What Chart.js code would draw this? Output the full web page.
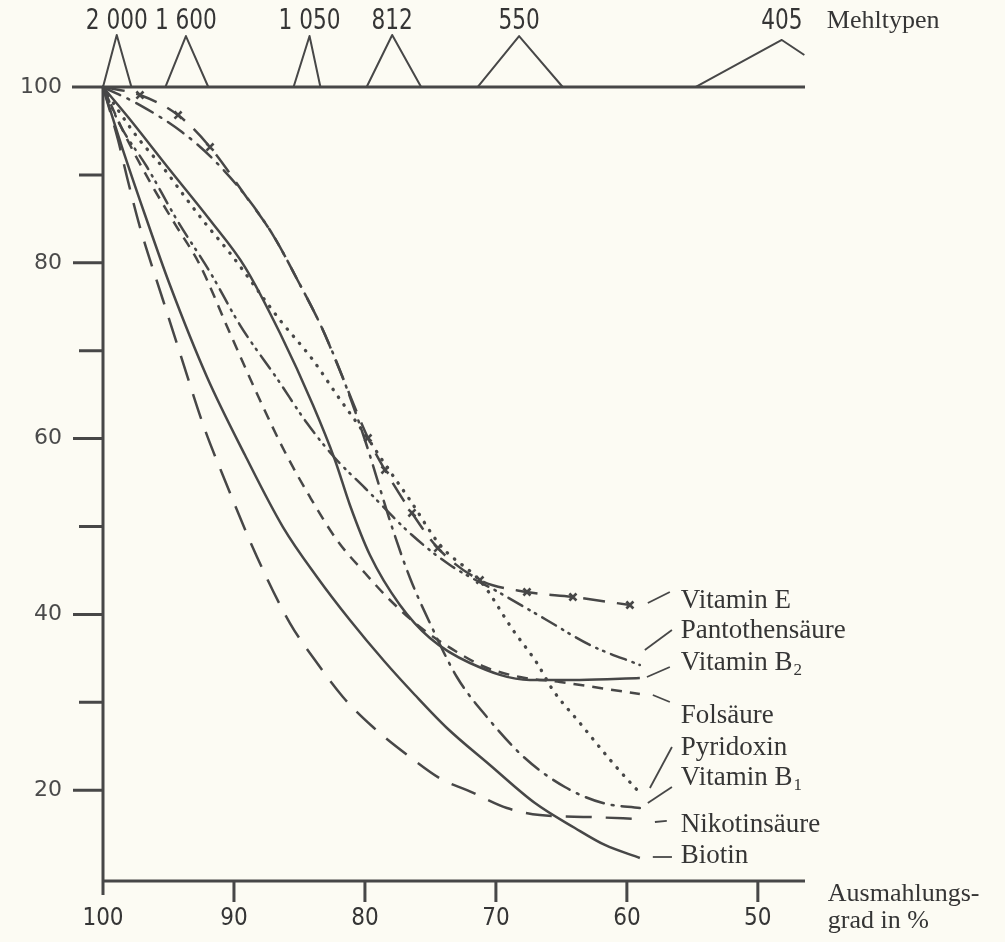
<!DOCTYPE html>
<html><head><meta charset="utf-8">
<script src="https://cdn.jsdelivr.net/npm/chart.js@4.4.1/dist/chart.umd.min.js"></script>
<style>html,body{margin:0;padding:0;background:#fcfbf3;}canvas{display:block;}</style>
</head><body>
<canvas id="c" width="1005" height="942"></canvas>
<script>
// x: Ausmahlungsgrad in %, y: relativer Vitamingehalt (Vollkorn = 100)
const xTicks = [100, 90, 80, 70, 60, 50];
const yTicks = [20, 30, 40, 50, 60, 70, 80, 90, 100];
const yLabelled = [20, 40, 60, 80, 100];

const vitaminE = [[100,100],[97.18,99.09],[94.27,96.81],[91.83,93.17],[89.16,87.71],[87.02,83.16],[85.19,78.16],[83.28,72.58],[81.68,66.89],[79.77,60.07],[78.47,56.43],[76.41,51.54],[74.43,47.55],[71.22,43.91],[67.63,42.55],[64.12,41.98],[59.77,41.07]];
const pantothensaeure = [[100,100],[98.70,95.68],[96.64,90.90],[94.35,84.87],[91.83,78.95],[89.54,72.92],[86.64,66.67],[84.43,61.77],[82.29,57.79],[80.00,54.38],[76.41,49.03],[73.51,45.62],[69.69,42.44],[66.26,39.48],[62.82,36.52],[59.01,34.24]];
const vitaminB2 = [[100,100],[98.09,96.59],[94.89,90.56],[91.83,84.87],[89.16,79.52],[86.49,72.01],[83.97,63.82],[82.29,57.57],[81.15,52.45],[79.62,46.76],[77.33,41.07],[75.04,37.31],[71.98,34.47],[67.40,32.54],[63.59,32.54],[59.01,32.76]];
const folsaeure = [[100,100],[98.32,94.54],[96.41,89.19],[94.50,84.41],[92.60,79.75],[90.31,72.01],[88.02,64.39],[86.11,58.48],[84.20,53.36],[82.14,48.46],[80.00,44.71],[78.09,41.64],[75.80,38.57],[72.98,35.72],[70.84,34.02],[68.17,32.88],[65.11,32.31],[62.06,31.63],[59.01,30.95]];
const pyridoxin = [[100,100],[98.85,97.38],[97.33,94.20],[95.27,90.56],[93.74,87.49],[92.21,84.53],[90.31,81.11],[86.49,73.49],[83.97,68.94],[82.14,64.96],[79.85,60.18],[78.32,56.77],[76.56,53.01],[74.27,47.90],[71.07,43.57],[68.70,38.23],[66.87,34.47],[65.65,31.40],[63.59,27.65],[61.07,23.09],[59.01,19.68]];
const vitaminB1 = [[100,100],[97.18,97.95],[93.97,94.88],[91.68,91.92],[89.16,87.71],[87.02,83.16],[85.19,78.16],[83.28,72.58],[81.68,66.89],[80.00,59.84],[77.86,49.60],[76.56,44.14],[75.04,39.02],[72.98,32.88],[70.69,28.33],[67.79,23.66],[64.73,20.36],[61.83,18.54],[59.01,17.97]];
const nikotinsaeure = [[100,100],[98.85,93.97],[98.17,89.76],[97.18,84.07],[95.42,75.77],[94.27,70.42],[92.21,60.98],[90.92,56.09],[88.24,46.53],[85.73,39.02],[83.82,34.81],[81.68,30.60],[79.39,27.19],[76.56,23.78],[74.05,21.16],[72.21,20.02],[69.16,17.97],[66.64,17.18],[62.82,16.95],[59.01,16.72]];
const biotin = [[100,100],[98.55,93.17],[96.79,85.44],[94.89,77.47],[92.06,67.01],[89.16,58.13],[86.26,49.94],[83.66,44.26],[81.15,39.36],[78.47,34.58],[76.18,30.83],[73.74,27.08],[70.46,22.87],[67.02,18.54],[63.97,15.70],[61.68,13.77],[59.01,12.29]];

// Mehltypen (flour types) and their extraction-range triangles
const flourTypes = ['2 000', '1 600', '1 050', '812', '550', '405'];
const flour2000 = [[100,100],[98.95,105.92],[97.83,100]];
const flour1600 = [[95.24,100],[93.67,105.80],[91.96,100]];
const flour1050 = [[85.45,100],[84.23,105.80],[83.40,100]];
const flour812  = [[79.87,100],[77.92,105.92],[75.71,100]];
const flour550  = [[71.40,100],[68.23,105.80],[64.90,100]];
const flour405  = [[54.77,100],[48.17,105.35],[46.45,103.64]];

const ink = '#474747';
const textInk = '#353535';
const serif = "'Liberation Serif', 'DejaVu Serif', serif";
const narrow = "'Liberation Sans Narrow', 'DejaVu Sans Condensed', sans-serif";

const toXY = arr => arr.map(p => ({x: p[0], y: p[1]}));
const curve = (label, arr, extra) => Object.assign({
  label, data: toXY(arr), borderColor: ink, borderWidth: 2.5, pointRadius: 0,
  cubicInterpolationMode: 'monotone', fill: false, clip: false, borderCapStyle: 'butt'
}, extra || {});
const tri = (arr) => ({
  data: toXY(arr), borderColor: ink, borderWidth: 2, pointRadius: 0, tension: 0, fill: false, clip: false
});

const eMarks = vitaminE.map((p, i) => (i >= 1 && i <= 3) || i >= 9 ? 5 : 0);

const datasets = [
  curve('Vitamin E', vitaminE, {borderDash: [22, 12], pointStyle: 'crossRot', pointRadius: eMarks, pointBorderWidth: 2.6, pointBorderColor: ink}),
  curve('Pantothensäure', pantothensaeure, {borderDash: [16, 7, 1.5, 6, 1.5, 7], borderCapStyle: 'round'}),
  curve('Vitamin B2', vitaminB2, {}),
  curve('Folsäure', folsaeure, {borderDash: [11, 8]}),
  curve('Pyridoxin', pyridoxin, {borderDash: [0.5, 9], borderCapStyle: 'round', borderWidth: 3.3}),
  curve('Vitamin B1', vitaminB1, {borderDash: [19, 8, 2, 8], borderCapStyle: 'round'}),
  curve('Nikotinsäure', nikotinsaeure, {borderDash: [26, 14]}),
  curve('Biotin', biotin, {}),
  tri(flour2000), tri(flour1600), tri(flour1050), tri(flour812), tri(flour550), tri(flour405)
];
const flourApex = [flour2000, flour1600, flour1050, flour812, flour550, flour405].map(t => t[1][0]);

// label annotations: text, optional subscript, baseline y, leader line (data units)
const labelX = 55.88;
const seriesLabels = [
  {t: 'Vitamin E', y: 40.73, a: [58.40, 41.30], b: [56.72, 42.55]},
  {t: 'Pantothensäure', y: 37.31, a: [58.63, 35.95], b: [56.56, 38.23]},
  {t: 'Vitamin B', sub: '2', y: 33.67, a: [58.47, 32.88], b: [56.72, 34.02]},
  {t: 'Folsäure', y: 27.65, a: [58.02, 30.83], b: [56.72, 30.03]},
  {t: 'Pyridoxin', y: 24.01, a: [58.24, 20.25], b: [56.56, 24.91]},
  {t: 'Vitamin B', sub: '1', y: 20.59, a: [58.40, 18.54], b: [56.56, 20.36]},
  {t: 'Nikotinsäure', y: 15.24, a: [57.86, 16.38], b: [56.95, 16.50]},
  {t: 'Biotin', y: 11.72, a: [58.02, 12.40], b: [56.56, 12.40]}
];

const axisPlugin = {
  id: 'bookAxes',
  beforeDatasetsDraw(chart) {
    const {ctx, scales: {x, y}} = chart;
    const x0 = x.getPixelForValue(100), xEnd = x.getPixelForValue(x.min);
    const yTop = y.getPixelForValue(100), yBot = y.getPixelForValue(y.min);
    ctx.save();
    ctx.strokeStyle = ink; ctx.lineWidth = 3; ctx.lineCap = 'butt';
    ctx.beginPath();
    ctx.moveTo(x0, yTop - 1); ctx.lineTo(x0, yBot + 14);
    ctx.moveTo(x0 - 31, yTop); ctx.lineTo(xEnd, yTop);
    ctx.moveTo(x0, yBot); ctx.lineTo(xEnd, yBot);
    yTicks.forEach(v => {
      if (v === 100) return;
      const p = y.getPixelForValue(v);
      const len = yLabelled.includes(v) ? 30 : 24;
      ctx.moveTo(x0 - len, p); ctx.lineTo(x0, p);
    });
    xTicks.forEach(v => {
      if (v === 100) return;
      const p = x.getPixelForValue(v);
      ctx.moveTo(p, yBot); ctx.lineTo(p, yBot + 21);
    });
    ctx.stroke();
    ctx.restore();
  },
  afterDatasetsDraw(chart) {
    const {ctx, scales: {x, y}} = chart;
    ctx.save();
    ctx.fillStyle = textInk;
    // flour type labels (condensed digits)
    ctx.textAlign = 'center'; ctx.textBaseline = 'alphabetic';
    ctx.font = `28px ${narrow}`;
    flourTypes.forEach((t, i) => {
      ctx.save();
      ctx.translate(x.getPixelForValue(flourApex[i]), y.getPixelForValue(106.6));
      ctx.scale(0.86, 1);
      ctx.fillText(t, 0, 0);
      ctx.restore();
    });
    ctx.font = `26px ${serif}`;
    ctx.textAlign = 'left';
    ctx.fillText('Mehltypen', x.getPixelForValue(44.73), y.getPixelForValue(106.71));
    // axis caption
    ctx.fillText('Ausmahlungs-', x.getPixelForValue(44.66), y.getPixelForValue(7.40));
    ctx.fillText('grad in %', x.getPixelForValue(44.66), y.getPixelForValue(4.32));
    // series labels and leader lines
    ctx.strokeStyle = ink; ctx.lineWidth = 1.8;
    seriesLabels.forEach(l => {
      ctx.beginPath();
      ctx.moveTo(x.getPixelForValue(l.a[0]), y.getPixelForValue(l.a[1]));
      ctx.lineTo(x.getPixelForValue(l.b[0]), y.getPixelForValue(l.b[1]));
      ctx.stroke();
      const px = x.getPixelForValue(labelX), py = y.getPixelForValue(l.y);
      ctx.font = `27px ${serif}`;
      ctx.fillText(l.t, px, py);
      if (l.sub) {
        const w = ctx.measureText(l.t).width;
        ctx.font = `17px ${serif}`;
        ctx.fillText(l.sub, px + w + 1, py + 5);
      }
    });
    ctx.restore();
  }
};

new Chart(document.getElementById('c'), {
  type: 'line',
  data: {datasets},
  options: {
    responsive: false, animation: false, devicePixelRatio: 1,
    layout: {autoPadding: false, padding: {left: 0, right: 200, top: 0, bottom: 0}},
    plugins: {legend: {display: false}, tooltip: {enabled: false}, title: {display: false}},
    elements: {line: {borderJoinStyle: 'round'}},
    scales: {
      x: {
        type: 'linear', reverse: true, min: 46.4, max: 100,
        afterBuildTicks: s => { s.ticks = xTicks.map(v => ({value: v})); },
        afterFit: s => { s.height = 61; s.paddingLeft = 0; s.paddingRight = 0; },
        grid: {display: false, drawTicks: true, tickLength: 20},
        border: {display: false},
        ticks: {padding: 3, autoSkip: false, maxRotation: 0, color: textInk,
          font: {family: narrow, size: 24}, callback: v => String(v)}
      },
      y: {
        type: 'linear', min: 9.67, max: 109.9,
        afterBuildTicks: s => { s.ticks = yTicks.map(v => ({value: v})); },
        afterFit: s => { s.width = 103; s.paddingTop = 0; s.paddingBottom = 0; },
        grid: {display: false, drawTicks: true, tickLength: 28},
        border: {display: false},
        ticks: {padding: 13, autoSkip: false, color: '#4a4a4a',
          font: {family: "'DejaVu Sans', sans-serif", size: 22},
          callback: v => yLabelled.includes(v) ? String(v) : ''}
      }
    }
  },
  plugins: [axisPlugin]
});
</script>
</body></html>
